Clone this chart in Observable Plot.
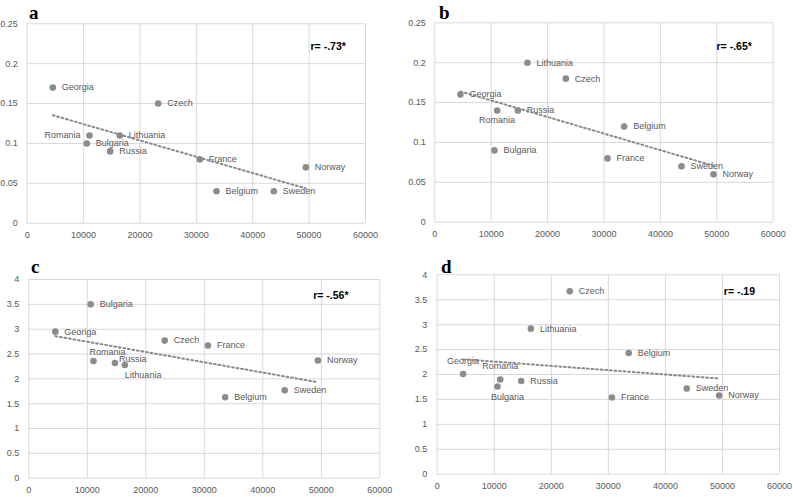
<!DOCTYPE html>
<html>
<head>
<meta charset="utf-8">
<script src="https://cdn.jsdelivr.net/npm/d3@7"></script>
<script src="https://cdn.jsdelivr.net/npm/@observablehq/plot@0.6"></script>
<style>
  html, body { margin: 0; padding: 0; background: #fff; }
  #wrap { position: relative; width: 793px; height: 497px; overflow: hidden; background: #fff; }
  .panel { position: absolute; }
  .letter { position: absolute; font-family: "Liberation Serif", "DejaVu Serif", serif; font-weight: bold; font-size: 19px; line-height: 1; color: #000; }
</style>
</head>
<body>
<div id="wrap"></div>
<script>
// ---- data ----
const countries = ["Georgia", "Romania", "Bulgaria", "Lithuania", "Russia", "Czech", "France", "Belgium", "Sweden", "Norway"];
const labelsC   = ["Georiga", "Romania", "Bulgaria", "Lithuania", "Russia", "Czech", "France", "Belgium", "Sweden", "Norway"];
const gdp = [4540, 11050, 10570, 16420, 14720, 23230, 30620, 33570, 43740, 49420];

const valuesA = [0.17, 0.11, 0.10, 0.11, 0.09, 0.15, 0.08, 0.04, 0.04, 0.07];
const valuesB = [0.16, 0.14, 0.09, 0.20, 0.14, 0.18, 0.08, 0.12, 0.07, 0.06];
const valuesC = [2.95, 2.36, 3.50, 2.28, 2.32, 2.77, 2.67, 1.63, 1.77, 2.37];
const valuesD = [2.01, 1.90, 1.76, 2.92, 1.87, 3.67, 1.54, 2.43, 1.72, 1.58];

const placeA = ["r", "l", "r", "r", "r", "r", "r", "r", "r", "r"];
const placeB = ["r", "b", "r", "r", "r", "r", "r", "r", "r", "r"];
const placeC = ["r", "ar", "r", "bs", "rr", "r", "r", "r", "r", "r"];
const placeD = ["a", "a", "bR", "r", "r", "r", "r", "r", "r", "r"];

const xTicks = [0, 10000, 20000, 30000, 40000, 50000, 60000];
const yTicksSmall = [0, 0.05, 0.1, 0.15, 0.2, 0.25];
const yTicksLarge = [0, 0.5, 1, 1.5, 2, 2.5, 3, 3.5, 4];

const rTexts = ["r= -.73*", "r= -.65*", "r= -.56*", "r= -.19"];
const letters = ["a", "b", "c", "d"];

// ---- styling / layout ----
const placeStyle = {
  r:  {dx: 9,  dy: 0,    textAnchor: "start"},
  l:  {dx: -9, dy: 0,    textAnchor: "end"},
  b:  {dx: 0,  dy: 9.5,  textAnchor: "middle"},
  a:  {dx: 0,  dy: -13,  textAnchor: "middle"},
  ar: {dx: -4, dy: -8.5, textAnchor: "start"},
  rr: {dx: 4,  dy: -4,   textAnchor: "start"},
  bs: {dx: 0,  dy: 10,   textAnchor: "start"},
  bR: {dx: 10, dy: 11,   textAnchor: "middle"}
};

const panels = [
  {vals: valuesA, labels: countries, place: placeA, yTicks: yTicksSmall, yDom: [0, 0.25],
   left: 0, top: 0, width: 396, height: 250, mL: 26.7, mR: 31, mT: 23.3, mB: 27.3, pad: 9.5,
   rdx: -55, rdy: 23, letter: {x: 29, y: 3}},
  {vals: valuesB, labels: countries, place: placeB, yTicks: yTicksSmall, yDom: [0, 0.25],
   left: 400, top: 0, width: 393, height: 250, mL: 34.3, mR: 20.3, mT: 22.3, mB: 28.3, pad: 9,
   rdx: -56.7, rdy: 24.3, letter: {x: 439, y: 3}},
  {vals: valuesC, labels: labelsC, place: placeC, yTicks: yTicksLarge, yDom: [0, 4],
   left: 0, top: 250, width: 396, height: 247, mL: 28.3, mR: 16.7, mT: 29, mB: 19.3, pad: 9.5,
   rdx: -66.6, rdy: 16, letter: {x: 31, y: 257}},
  {vals: valuesD, labels: countries, place: placeD, yTicks: yTicksLarge, yDom: [0, 4],
   left: 400, top: 250, width: 393, height: 247, mL: 36.7, mR: 14, mT: 24.3, mB: 23.3, pad: 10,
   rdx: -55.7, rdy: 16.4, letter: {x: 441, y: 257}}
];

const wrap = document.getElementById("wrap");
const gridColor = "#d9d9d9";
const dotColor = "#8c8c8c";
const labelColor = "#595959";

panels.forEach((p, i) => {
  const rows = gdp.map((g, k) => ({x: g, y: p.vals[k], label: p.labels[k], place: p.place[k]}));
  const labelMarks = Object.keys(placeStyle).map(key => {
    const s = placeStyle[key];
    return Plot.text(rows.filter(r => r.place === key), {
      x: "x", y: "y", text: "label",
      dx: s.dx, dy: s.dy, textAnchor: s.textAnchor,
      fill: labelColor, fontSize: 9, fontFamily: "'Liberation Sans', Arial, sans-serif"
    });
  });
  const chart = Plot.plot({
    width: p.width,
    height: p.height,
    marginLeft: p.mL,
    marginRight: p.mR,
    marginTop: p.mT,
    marginBottom: p.mB,
    style: {fontFamily: "'Liberation Sans', Arial, sans-serif", fontSize: "9px", color: labelColor, background: "transparent", overflow: "visible"},
    x: {domain: [0, 60000]},
    y: {domain: p.yDom},
    marks: [
      Plot.gridX(xTicks, {stroke: gridColor, strokeOpacity: 1, strokeWidth: 1}),
      Plot.gridY(p.yTicks, {stroke: gridColor, strokeOpacity: 1, strokeWidth: 1}),
      Plot.axisX({ticks: xTicks, tickSize: 0, tickPadding: 8, tickFormat: d => String(d), label: null}),
      Plot.axisY({ticks: p.yTicks, tickSize: 0, tickPadding: p.pad, tickFormat: d => String(d), label: null}),
      Plot.dot(rows, {x: "x", y: "y", r: 3.3, fill: dotColor, stroke: null}),
      ...labelMarks,
      Plot.linearRegressionY(rows, {x: "x", y: "y", ci: 0, stroke: "#8a8a8a", strokeWidth: 2, strokeDasharray: "1.8,2.8"}),
      Plot.text([rTexts[i]], {frameAnchor: "top-right", text: d => d, dx: p.rdx, dy: p.rdy,
        textAnchor: "start", lineAnchor: "middle", fill: "#000", fontWeight: "bold", fontSize: 10.5,
        fontFamily: "'Liberation Sans', Arial, sans-serif"})
    ]
  });
  const holder = document.createElement("div");
  holder.className = "panel";
  holder.style.left = p.left + "px";
  holder.style.top = p.top + "px";
  holder.appendChild(chart);
  wrap.appendChild(holder);

  const lt = document.createElement("div");
  lt.className = "letter";
  lt.textContent = letters[i];
  lt.style.left = p.letter.x + "px";
  lt.style.top = p.letter.y + "px";
  wrap.appendChild(lt);
});
</script>
</body>
</html>
